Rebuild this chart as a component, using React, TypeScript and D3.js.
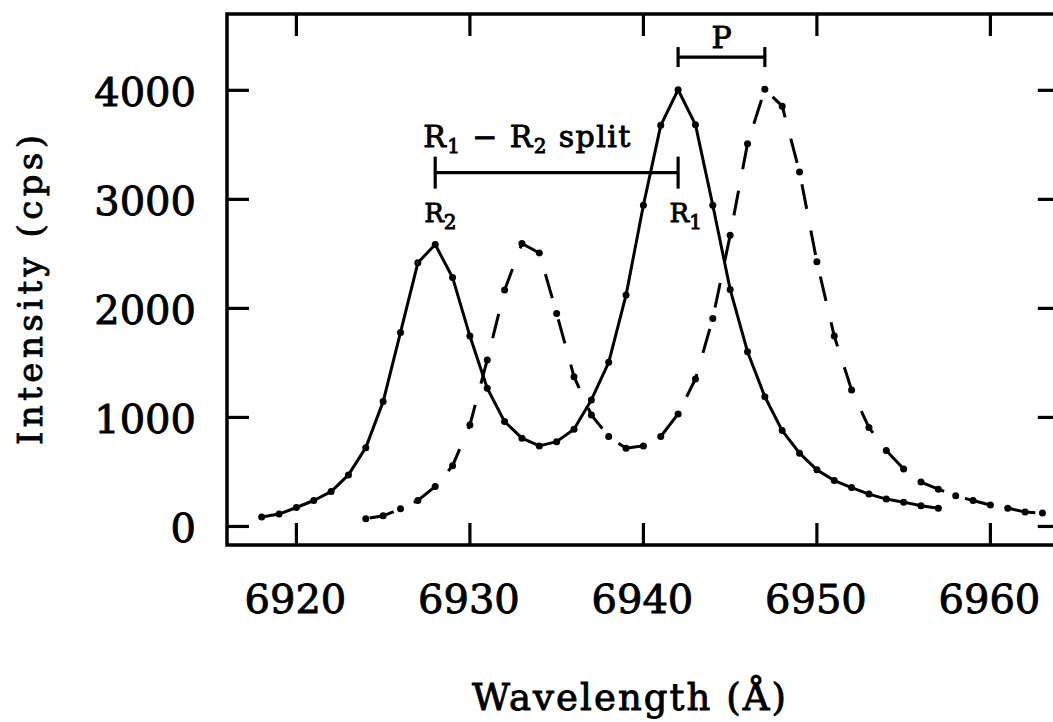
import React from 'react';
import * as d3 from 'd3';

// measured spectrum (solid) and shifted spectrum (dashed)
const solidWavelength = [
  6918, 6919, 6920, 6921, 6922, 6923, 6924, 6925, 6926, 6927,
  6928, 6929, 6930, 6931, 6932, 6933, 6934, 6935, 6936, 6937,
  6938, 6939, 6940, 6941, 6942, 6943, 6944, 6945, 6946, 6947,
  6948, 6949, 6950, 6951, 6952, 6953, 6954, 6955, 6956, 6957,
];
const solidIntensity = [
  86, 114, 174, 238, 320, 473, 723, 1145, 1780, 2418,
  2586, 2284, 1746, 1267, 962, 810, 739, 778, 892, 1160,
  1505, 2122, 2946, 3679, 4005, 3685, 2946, 2174, 1603, 1190,
  879, 672, 519, 421, 357, 297, 251, 223, 190, 168,
];

const dashedWavelength = [
  6924, 6925, 6926, 6927, 6928, 6929, 6930, 6931, 6932, 6933,
  6934, 6935, 6936, 6937, 6938, 6939, 6940, 6941, 6942, 6943,
  6944, 6945, 6946, 6947, 6948, 6949, 6950, 6951, 6952, 6953,
  6954, 6955, 6956, 6957, 6958, 6959, 6960, 6961, 6962, 6963,
];
const dashedIntensity = [
  71, 98, 162, 238, 366, 556, 931, 1527, 2168, 2595,
  2509, 1954, 1374, 1023, 824, 718, 739, 824, 1032, 1353,
  1908, 2671, 3511, 4010, 3855, 3251, 2427, 1746, 1252, 907,
  696, 528, 407, 342, 281, 238, 196, 168, 132, 123,
];

const xTicks = [6920, 6930, 6940, 6950, 6960];
const yTicks = [0, 1000, 2000, 3000, 4000];

// annotation anchors
const r2Peak = 6928;
const r1Peak = 6942;
const shiftedPeak = 6947;
const splitLevel = 3245;
const pLevel = 4305;

const FONT = '"DejaVu Serif", serif';

export default function App() {
  const width = 1053, height = 722;

  const x = d3.scaleLinear().domain([6916, 6964]).range([227, 1059.8]);
  const y = d3.scaleLinear().domain([-170, 4700]).range([545, 14]);

  const line = d3.line<[number, number]>()
    .x(d => x(d[0]))
    .y(d => y(d[1]));

  const solid: [number, number][] = solidWavelength.map((w, i) => [w, solidIntensity[i]]);
  const dashed: [number, number][] = dashedWavelength.map((w, i) => [w, dashedIntensity[i]]);

  const left = x(6916), right = x(6964), top = y(4700), bottom = y(-170);
  const tickLen = 22;

  const ys = y(splitLevel);
  const yp = y(pLevel);

  // thin outline to thicken the glyphs a little
  const heavy = { stroke: '#000', strokeWidth: 0.9 };

  return (
    <svg width={width} height={height}
      style={{ position: 'absolute', left: 0, top: 0, background: '#fff' }}>
      <g fill="none" stroke="#000" strokeWidth={3.2}>
        <rect x={left} y={top} width={right - left} height={bottom - top} strokeWidth={3.5} />
        {xTicks.map(t => (
          <g key={'x' + t}>
            <line x1={x(t)} x2={x(t)} y1={bottom} y2={bottom - tickLen} />
            <line x1={x(t)} x2={x(t)} y1={top} y2={top + tickLen} />
          </g>
        ))}
        {yTicks.map(t => (
          <g key={'y' + t}>
            <line x1={left} x2={left + tickLen} y1={y(t)} y2={y(t)} />
            <line x1={right} x2={right - tickLen} y1={y(t)} y2={y(t)} />
          </g>
        ))}
      </g>

      <g fontFamily={FONT} fontSize={40} fill="#000" {...heavy}>
        {xTicks.map(t => (
          <text key={'xl' + t} x={x(t) - 1} y={613} textAnchor="middle">{t}</text>
        ))}
        {yTicks.map(t => (
          <text key={'yl' + t} x={196} y={y(t) + 16} textAnchor="end">{t}</text>
        ))}
      </g>

      <text fontFamily={FONT} fontSize={34} x={42} y={290} textAnchor="middle" {...heavy}
        transform="rotate(-90 42 290)" textLength={310} lengthAdjust="spacing">
        Intensity (cps)
      </text>
      <text fontFamily={FONT} fontSize={37} x={472} y={710} {...heavy}
        textLength={314} lengthAdjust="spacing">
        Wavelength (Å)
      </text>

      {/* curves */}
      <path d={line(solid) ?? ''} fill="none" stroke="#000" strokeWidth={3} strokeLinejoin="round" />
      <path d={line(dashed) ?? ''} fill="none" stroke="#000" strokeWidth={3}
        strokeDasharray="25 22" strokeDashoffset={-4} />
      {solid.map((d, i) => (
        <circle key={'s' + i} cx={x(d[0])} cy={y(d[1])} r={3.5} fill="#000" />
      ))}
      {dashed.map((d, i) => (
        <circle key={'d' + i} cx={x(d[0])} cy={y(d[1])} r={3.5} fill="#000" />
      ))}

      {/* R1 - R2 split and P brackets */}
      <g stroke="#000" strokeWidth={3.2}>
        <line x1={x(r2Peak)} x2={x(r1Peak)} y1={ys} y2={ys} />
        <line x1={x(r2Peak)} x2={x(r2Peak)} y1={ys - 16} y2={ys + 16} />
        <line x1={x(r1Peak)} x2={x(r1Peak)} y1={ys - 16} y2={ys + 16} />
        <line x1={x(r1Peak)} x2={x(shiftedPeak)} y1={yp} y2={yp} />
        <line x1={x(r1Peak)} x2={x(r1Peak)} y1={yp - 10} y2={yp + 10} />
        <line x1={x(shiftedPeak)} x2={x(shiftedPeak)} y1={yp - 10} y2={yp + 10} />
      </g>

      <g fontFamily={FONT} fill="#000" {...heavy}>
        <text x={x(r2Peak) - 12} y={ys - 25.6} fontSize={30} textLength={207} lengthAdjust="spacing">
          R<tspan fontSize={20} dy={6}>1</tspan><tspan dy={-6}> − R</tspan><tspan fontSize={20} dy={6}>2</tspan><tspan dy={-6}> split</tspan>
        </text>
        <text x={x(r2Peak) - 11} y={ys + 49.4} fontSize={26}>
          R<tspan fontSize={20} dy={7}>2</tspan>
        </text>
        <text x={x(r1Peak) - 8.5} y={ys + 49.4} fontSize={26}>
          R<tspan fontSize={20} dy={7}>1</tspan>
        </text>
        <text x={(x(r1Peak) + x(shiftedPeak)) / 2} y={yp - 8.7} fontSize={30} textAnchor="middle">P</text>
      </g>
    </svg>
  );
}
